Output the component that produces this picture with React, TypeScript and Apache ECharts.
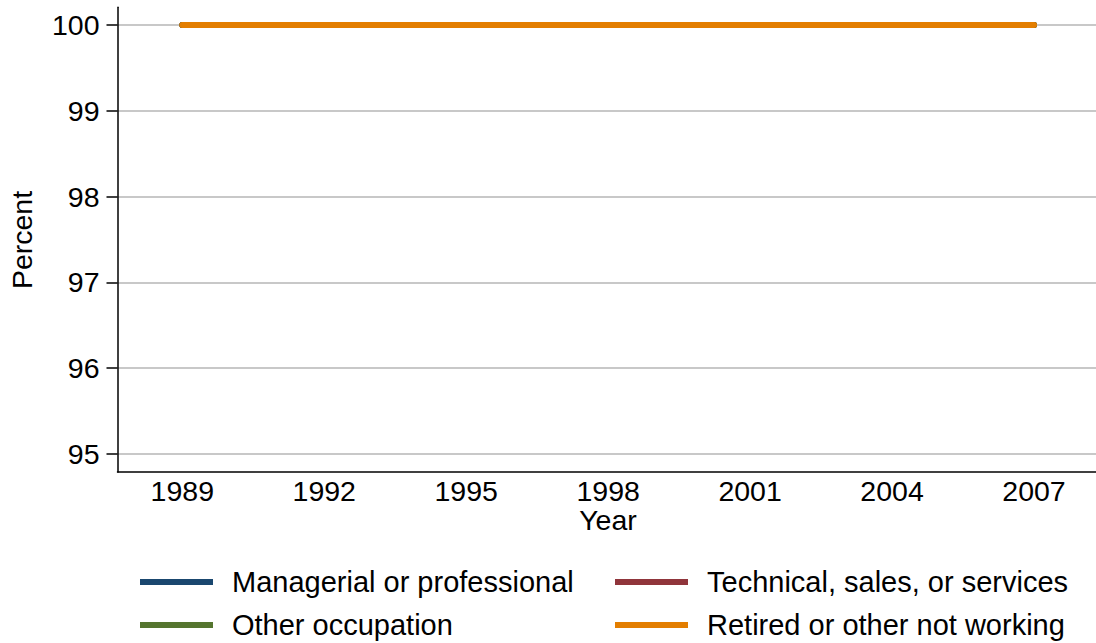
import React, { useEffect, useRef } from "react";
import * as echarts from "echarts";

const years = [1989, 1992, 1995, 1998, 2001, 2004, 2007];
const managerial = [100, 100, 100, 100, 100, 100, 100];
const technical = [100, 100, 100, 100, 100, 100, 100];
const otherOcc = [100, 100, 100, 100, 100, 100, 100];
const retired = [100, 100, 100, 100, 100, 100, 100];
const yTicks = [95, 96, 97, 98, 99, 100];
const seriesNames = [
  "Managerial or professional",
  "Technical, sales, or services",
  "Other occupation",
  "Retired or other not working",
];
const colors = ["#1a476f", "#90353b", "#55752f", "#e37e00"];

const FONT = "'Liberation Sans', Arial, sans-serif";
const FS = 28.5;
const LFS = 29;

export default function App() {
  const ref = useRef<HTMLDivElement>(null);
  useEffect(() => {
    if (!ref.current) return;
    const chart = echarts.init(ref.current, undefined, { renderer: "svg" });
    const seriesData = [managerial, technical, otherOcc, retired];
    const legendPos = [
      { left: 140, top: 566 },
      { left: 615, top: 566 },
      { left: 140, top: 609 },
      { left: 615, top: 609 },
    ];
    chart.setOption({
      animation: false,
      backgroundColor: "#ffffff",
      textStyle: { fontFamily: FONT },
      grid: { left: 117.5, right: 0, top: 7.3, bottom: 171, containLabel: false },
      xAxis: {
        type: "value",
        min: 1987.63,
        max: 2008.31,
        axisLine: { show: true, lineStyle: { color: "#000", width: 1.5 } },
        axisTick: { show: false, customValues: years },
        splitLine: { show: false },
        axisLabel: {
          customValues: years,
          color: "#000",
          fontSize: FS,
          fontFamily: FONT,
          margin: 4,
          formatter: (v: number) => String(Math.round(v)),
        },
      },
      yAxis: {
        type: "value",
        min: 94.79,
        max: 100.206,
        axisLine: { show: true, lineStyle: { color: "#000", width: 1.5 } },
        axisTick: { show: true, customValues: yTicks, length: 11, lineStyle: { color: "#000", width: 1.5 } },
        splitLine: { show: true, customValues: yTicks, lineStyle: { color: "#c8c8c8", width: 1.8 } },
        axisLabel: {
          customValues: yTicks,
          color: "#000",
          fontSize: FS,
          fontFamily: FONT,
          margin: 18,
          formatter: (v: number) => String(Math.round(v)),
        },
      },
      legend: seriesNames.map((n, i) => ({
        data: [n],
        left: legendPos[i].left,
        top: legendPos[i].top,
        icon: "rect",
        itemWidth: 73,
        itemHeight: 6,
        selectedMode: false,
        padding: 0,
        textStyle: {
          fontSize: LFS,
          fontFamily: FONT,
          color: "#000",
          padding: [0, 0, 0, 14],
          lineHeight: 32,
        },
      })),
      graphic: [
        {
          type: "text",
          x: 22,
          y: 240,
          rotation: Math.PI / 2,
          style: {
            text: "Percent",
            fontSize: FS,
            fontFamily: FONT,
            fill: "#000",
            align: "center",
            verticalAlign: "middle",
          },
        },
        {
          type: "text",
          x: 608,
          y: 520,
          style: {
            text: "Year",
            fontSize: FS,
            fontFamily: FONT,
            fill: "#000",
            align: "center",
            verticalAlign: "middle",
          },
        },
      ],
      series: seriesNames.map((n, i) => ({
        name: n,
        type: "line",
        data: years.map((y, j) => [y, seriesData[i][j]]),
        showSymbol: false,
        symbol: "none",
        color: colors[i],
        lineStyle: { color: colors[i], width: 6, cap: "round", join: "round" },
      })),
    });
    return () => chart.dispose();
  }, []);
  return (
    <div
      ref={ref}
      style={{ position: "absolute", left: 0, top: 0, width: 1096, height: 643 }}
    />
  );
}
